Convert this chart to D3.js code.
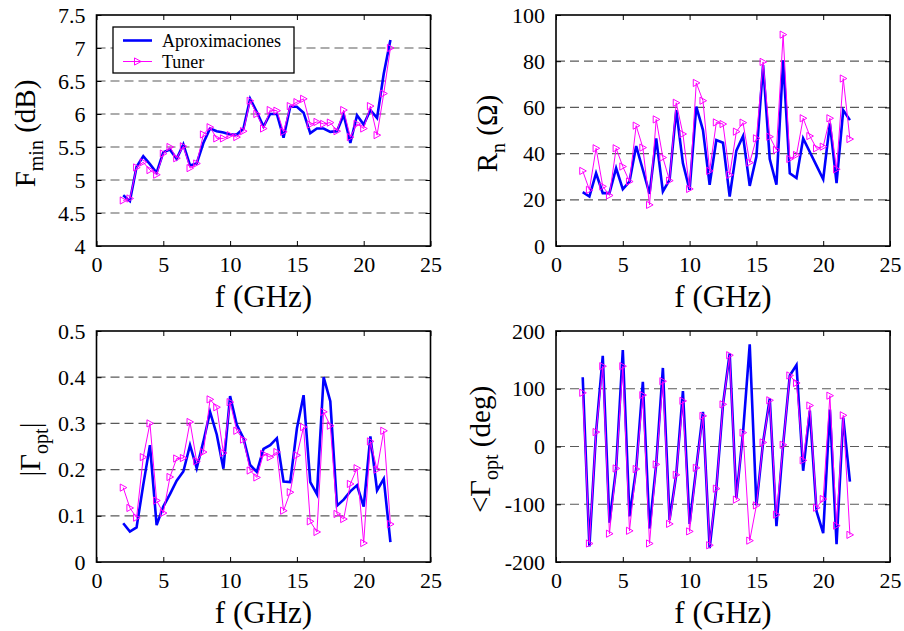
<!DOCTYPE html>
<html>
<head>
<meta charset="utf-8">
<script src="https://cdn.jsdelivr.net/npm/d3@7"></script>
<style>
  body { margin: 0; background: #fff; }
  svg { display: block; }
  svg text { font-family: "Liberation Serif", "Times New Roman", Times, "DejaVu Serif", serif !important; fill: #000; }
</style>
</head>
<body>
<div id="chart"></div>
<script>
// frequency points (GHz)
const freq = [2, 2.5, 3, 3.5, 4, 4.5, 5, 5.5, 6, 6.5, 7, 7.5, 8, 8.5, 9, 9.5, 10, 10.5, 11, 11.5,
    12, 12.5, 13, 13.5, 14, 14.5, 15, 15.5, 16, 16.5, 17, 17.5, 18, 18.5, 19, 19.5, 20, 20.5, 21, 21.5, 22];

// Fmin (dB)
const fminAprox = [4.77, 4.68, 5.20, 5.36, 5.24, 5.11, 5.42, 5.46, 5.32, 5.54, 5.22, 5.25, 5.56, 5.78, 5.74, 5.72, 5.69, 5.69, 5.78, 6.23,
    6.03, 5.81, 6.00, 6.00, 5.64, 6.11, 6.11, 6.02, 5.71, 5.78, 5.78, 5.73, 5.74, 5.99, 5.56, 5.98, 5.84, 6.06, 5.94, 6.61, 7.12];
const fminTuner = [4.69, 4.72, 5.19, 5.27, 5.15, 5.08, 5.40, 5.50, 5.33, 5.51, 5.18, 5.25, 5.69, 5.80, 5.63, 5.63, 5.68, 5.65, 5.74, 6.20,
    6.00, 5.78, 6.06, 6.05, 5.73, 6.12, 6.18, 6.23, 5.84, 5.88, 5.85, 5.87, 5.74, 6.06, 5.65, 5.85, 5.78, 6.12, 5.68, 6.31, 7.00];

// Rn (ohm)
const rnAprox = [23.3, 21.4, 31.5, 22.9, 22.9, 33.7, 24.6, 27.9, 43.3, 33.0, 22.6, 46.6, 23.6, 28.6, 58.8, 35.8, 24.3, 60.3, 50.2, 26.5,
    45.9, 44.7, 21.4, 41.3, 47.6, 26.0, 38.7, 78.3, 37.6, 26.5, 80.4, 31.5, 29.4, 46.6, 40.7, 34.8, 28.9, 53.1, 27.2, 58.8, 54.5];
const rnTuner = [32.5, 24.3, 42.3, 25.8, 21.9, 42.3, 34.4, 27.9, 52.1, 42.6, 17.8, 54.8, 38.3, 28.3, 62.0, 48.5, 24.7, 70.6, 62.9, 32.5,
    53.5, 52.8, 30.8, 49.5, 53.4, 36.1, 46.6, 79.7, 47.3, 41.6, 91.5, 37.7, 39.4, 55.3, 47.6, 42.3, 43.0, 55.3, 33.2, 72.5, 46.3];

// |Gamma opt|
const gammaAprox = [0.084, 0.066, 0.075, 0.167, 0.253, 0.080, 0.120, 0.147, 0.176, 0.196, 0.253, 0.203, 0.261, 0.325, 0.276, 0.202, 0.359, 0.297, 0.268, 0.210,
    0.195, 0.245, 0.253, 0.268, 0.174, 0.173, 0.289, 0.361, 0.173, 0.147, 0.400, 0.348, 0.122, 0.135, 0.153, 0.166, 0.120, 0.272, 0.155, 0.180, 0.043];
const gammaTuner = [0.161, 0.117, 0.096, 0.227, 0.300, 0.133, 0.106, 0.184, 0.224, 0.225, 0.303, 0.218, 0.238, 0.352, 0.335, 0.236, 0.346, 0.284, 0.265, 0.198,
    0.183, 0.234, 0.227, 0.238, 0.111, 0.151, 0.231, 0.292, 0.088, 0.065, 0.325, 0.295, 0.104, 0.093, 0.169, 0.203, 0.041, 0.261, 0.200, 0.284, 0.082];

// angle of Gamma opt (deg)
const angleAprox = [120, -173, 25, 157, -132, -38, 167, -121, -39, 112, -142, -31, 136, -127, -49, 96, -134, -37, 60, -176,
    -73, 73, 161, -89, 24, 177, -102, 7, 83, -138, 3, 123, 141, -42, 62, -112, -150, 64, -169, 50, -61];
const angleTuner = [93, -168, 25, 139, -151, -38, 139, -146, -39, 89, -168, -31, 113, -134, -49, 79, -147, -37, 53, -171,
    -73, 73, 158, -92, 24, -163, -102, 7, 80, -118, 3, 123, 110, -24, 71, -106, -91, 88, -137, 54, -153];

const xTicks = [0, 5, 10, 15, 20, 25];
const legendLabels = ["Aproximaciones", "Tuner"];

const serif = "'Liberation Serif', 'Times New Roman', Times, serif";

const width = 904, height = 631;
const svg = d3.select("#chart").append("svg")
    .attr("width", width)
    .attr("height", height)
    .attr("font-family", serif);

const panelW = 334, panelH = 231;

const panels = [
    { left: 96.5, top: 15, domain: [4, 7.5], ticks: [4, 4.5, 5, 5.5, 6, 6.5, 7, 7.5], a: fminAprox, t: fminTuner,
      label: [["F", 0], ["min", 1], [" (dB)", 0]], labelX: 35, legend: true },
    { left: 556, top: 15, domain: [0, 100], ticks: [0, 20, 40, 60, 80, 100], a: rnAprox, t: rnTuner,
      label: [["R", 0], ["n", 1], [" (\u03A9)", 0]], labelX: 497 },
    { left: 96.5, top: 331, domain: [0, 0.5], ticks: [0, 0.1, 0.2, 0.3, 0.4, 0.5], a: gammaAprox, t: gammaTuner,
      label: [["|\u0393", 0], ["opt", 1], ["|", 0]], labelX: 40 },
    { left: 556, top: 331, domain: [-200, 200], ticks: [-200, -100, 0, 100, 200], a: angleAprox, t: angleTuner,
      label: [["<\u0393", 0], ["opt", 1], [" (deg)", 0]], labelX: 490 }
];

// right-pointing triangle marker
const tri = "M-3,-3.6L3.6,0L-3,3.6Z";

panels.forEach(p => {
    const g = svg.append("g").attr("transform", `translate(${p.left},${p.top})`);
    const x = d3.scaleLinear().domain([0, 25]).range([0, panelW]);
    const y = d3.scaleLinear().domain(p.domain).range([panelH, 0]);

    // dashed grid on inner ticks
    g.selectAll(".grid")
        .data(p.ticks.slice(1, -1))
        .enter().append("line")
        .attr("x1", 0).attr("x2", panelW)
        .attr("y1", d => y(d)).attr("y2", d => y(d))
        .attr("stroke", "#5a5a5a")
        .attr("stroke-width", 1.2)
        .attr("stroke-dasharray", "9,5");

    // axes with inward ticks
    const fmt = d => String(d);
    g.append("g").attr("transform", `translate(0,${panelH})`)
        .call(d3.axisBottom(x).tickValues(xTicks).tickSizeInner(-5).tickSizeOuter(0).tickPadding(10).tickFormat(fmt));
    g.append("g")
        .call(d3.axisTop(x).tickValues(xTicks).tickSizeInner(-5).tickSizeOuter(0).tickFormat(""));
    g.append("g")
        .call(d3.axisLeft(y).tickValues(p.ticks).tickSizeInner(-5).tickSizeOuter(0).tickPadding(11).tickFormat(fmt));
    g.append("g").attr("transform", `translate(${panelW},0)`)
        .call(d3.axisRight(y).tickValues(p.ticks).tickSizeInner(-5).tickSizeOuter(0).tickFormat(""));

    g.selectAll(".domain").remove();
    g.selectAll("g").attr("font-family", serif);
    g.selectAll(".tick line").attr("stroke", "#000").attr("stroke-width", 1);
    g.selectAll(".tick text")
        .attr("font-family", serif)
        .attr("font-size", 22)
        .attr("fill", "#000");

    // frame
    g.append("rect")
        .attr("width", panelW).attr("height", panelH)
        .attr("fill", "none")
        .attr("stroke", "#000")
        .attr("stroke-width", 1.6);

    const line = d3.line().x((d, i) => x(freq[i])).y(d => y(d));

    g.append("path")
        .datum(p.a)
        .attr("fill", "none")
        .attr("stroke", "#0000ff")
        .attr("stroke-width", 2.6)
        .attr("d", line);

    g.append("path")
        .datum(p.t)
        .attr("fill", "none")
        .attr("stroke", "#ff00ff")
        .attr("stroke-width", 1)
        .attr("d", line);

    g.selectAll(".mk")
        .data(p.t)
        .enter().append("path")
        .attr("d", tri)
        .attr("transform", (d, i) => `translate(${x(freq[i])},${y(d)})`)
        .attr("fill", "none")
        .attr("stroke", "#ff00ff")
        .attr("stroke-width", 1);

    // x label
    g.append("text")
        .attr("x", panelW / 2)
        .attr("y", panelH + 61)
        .attr("text-anchor", "middle")
        .attr("font-family", serif)
        .attr("font-size", 31)
        .text("f (GHz)");

    // y label
    const yl = svg.append("text")
        .attr("transform", `translate(${p.labelX},${p.top + panelH / 2 + 3}) rotate(-90)`)
        .attr("text-anchor", "middle")
        .attr("font-family", serif)
        .attr("font-size", 29);
    let sub = false;
    p.label.forEach(([s, isSub]) => {
        const ts = yl.append("tspan").text(s);
        if (isSub && !sub) { ts.attr("font-size", 20).attr("dy", 8); sub = true; }
        else if (!isSub && sub) { ts.attr("dy", -8); sub = false; }
    });

    if (p.legend) {
        const lg = svg.append("g").attr("transform", "translate(113,27)");
        lg.append("rect")
            .attr("width", 181).attr("height", 46)
            .attr("fill", "#fff").attr("stroke", "#000").attr("stroke-width", 1.3);
        const rows = [
            { y: 13.5, color: "#0000ff", w: 2.6, marker: false },
            { y: 34.5, color: "#ff00ff", w: 1, marker: true }
        ];
        rows.forEach((r, i) => {
            lg.append("line")
                .attr("x1", 10).attr("x2", 39)
                .attr("y1", r.y).attr("y2", r.y)
                .attr("stroke", r.color).attr("stroke-width", r.w);
            if (r.marker) {
                lg.append("path").attr("d", tri)
                    .attr("transform", `translate(24.5,${r.y})`)
                    .attr("fill", "none").attr("stroke", r.color);
            }
            lg.append("text")
                .attr("x", 49).attr("y", r.y + 6)
                .attr("font-family", serif)
                .attr("font-size", 18)
                .text(legendLabels[i]);
        });
    }
});
</script>
</body>
</html>
